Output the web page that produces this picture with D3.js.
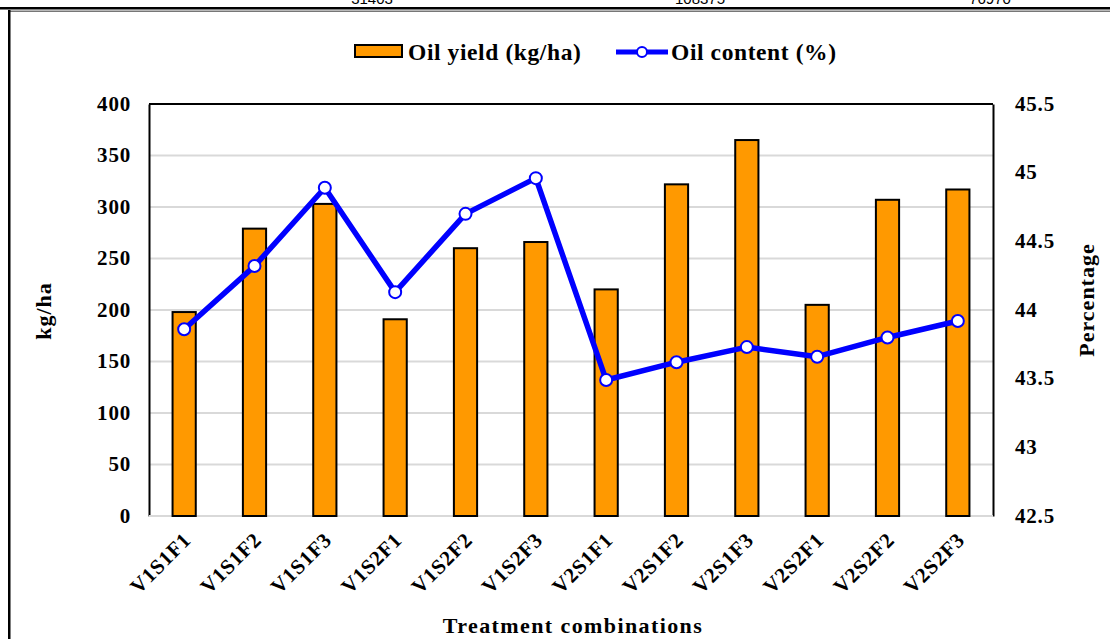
<!DOCTYPE html>
<html lang="en">
<head>
<meta charset="UTF-8">
<title>Oil yield and oil content</title>
<script src="https://d3js.org/d3.v7.min.js"></script>
<style>
body { margin: 0; background: #fff; }
svg { display: block; }
.tick text { font-family: "Liberation Serif", "Times New Roman", serif; font-weight: bold; }
</style>
</head>
<body>
<svg width="1110" height="639"></svg>
<script>
// data
const treatments = ["V1S1F1", "V1S1F2", "V1S1F3", "V1S2F1", "V1S2F2", "V1S2F3",
                    "V2S1F1", "V2S1F2", "V2S1F3", "V2S2F1", "V2S2F2", "V2S2F3"];
const oilYield = [198, 279, 303, 191, 260, 266, 220, 322, 365, 205, 307, 317];
const oilContent = [43.86, 44.32, 44.89, 44.13, 44.70, 44.96, 43.49, 43.62, 43.73, 43.66, 43.80, 43.92];
const leftTicks = [0, 50, 100, 150, 200, 250, 300, 350, 400];
const rightTicks = [42.5, 43, 43.5, 44, 44.5, 45, 45.5];
const cutNumbers = [["31403", 372], ["108375", 700], ["76970", 990]];

const svg = d3.select("svg");
const serif = "'Liberation Serif', 'Times New Roman', serif";
const m = { left: 149, right: 993, top: 104, bottom: 516 };

// frame bits of the page the chart was cropped from
svg.selectAll(".cut").data(cutNumbers).enter().append("text")
    .attr("x", d => d[1]).attr("y", 4)
    .attr("text-anchor", "middle")
    .attr("font-family", "'Liberation Sans', Arial, sans-serif")
    .attr("font-size", 15)
    .text(d => d[0]);
svg.append("rect").attr("x", 0).attr("y", 7).attr("width", 1110).attr("height", 2.5).attr("fill", "#000");
svg.append("rect").attr("x", 8).attr("y", 10.5).attr("width", 1102).attr("height", 1.5).attr("fill", "#777");
svg.append("rect").attr("x", 8).attr("y", 10).attr("width", 2.5).attr("height", 629).attr("fill", "#000");

const x = d3.scaleBand().domain(treatments).range([m.left, m.right]).paddingInner(0.67).paddingOuter(0.335);
const y = d3.scaleLinear().domain([0, 400]).range([m.bottom, m.top]);
const y2 = d3.scaleLinear().domain([42.5, 45.5]).range([m.bottom, m.top]);

// gridlines
svg.append("g").selectAll("line").data(leftTicks.slice(1, -1)).enter().append("line")
    .attr("x1", m.left).attr("x2", m.right)
    .attr("y1", d => y(d)).attr("y2", d => y(d))
    .attr("stroke", "#d9d9d9").attr("stroke-width", 2);

// left axis
const gl = svg.append("g").attr("transform", `translate(${m.left},0)`)
    .call(d3.axisLeft(y).tickValues(leftTicks).tickSize(0).tickPadding(18));
gl.select(".domain").attr("stroke", "#000").attr("stroke-width", 2);
gl.selectAll("text").attr("font-size", 21).attr("letter-spacing", 0.8).attr("fill", "#000").attr("dy", "0.3em");

// right axis
const gr = svg.append("g").attr("transform", `translate(${m.right},0)`)
    .call(d3.axisRight(y2).tickValues(rightTicks).tickSize(0).tickPadding(22).tickFormat(d3.format("")));
gr.select(".domain").attr("stroke", "#000").attr("stroke-width", 2);
gr.selectAll("text").attr("font-size", 21).attr("letter-spacing", 0.8).attr("fill", "#000").attr("dy", "0.3em");

// top border and baseline
svg.append("line").attr("x1", m.left).attr("x2", m.right).attr("y1", m.top).attr("y2", m.top)
    .attr("stroke", "#000").attr("stroke-width", 2);
svg.append("line").attr("x1", m.left).attr("x2", m.right).attr("y1", m.bottom).attr("y2", m.bottom)
    .attr("stroke", "#d9d9d9").attr("stroke-width", 2);

// bars
svg.append("g").selectAll("rect").data(oilYield).enter().append("rect")
    .attr("x", (d, i) => x(treatments[i]))
    .attr("y", d => y(d))
    .attr("width", x.bandwidth())
    .attr("height", d => m.bottom - y(d))
    .attr("fill", "#FF9900")
    .attr("stroke", "#000").attr("stroke-width", 2);

// x axis labels
const gx = svg.append("g").attr("transform", `translate(0,${m.bottom})`)
    .call(d3.axisBottom(x).tickSize(0).tickPadding(0));
gx.select(".domain").remove();
gx.selectAll("text")
    .attr("font-size", 21).attr("letter-spacing", 0.8).attr("fill", "#000")
    .attr("text-anchor", "end")
    .attr("transform", "translate(3,20) rotate(-45)")
    .attr("dy", "0.35em");

// line
const line = d3.line().x((d, i) => x(treatments[i]) + x.bandwidth() / 2).y(d => y2(d));
svg.append("path").datum(oilContent)
    .attr("d", line).attr("fill", "none")
    .attr("stroke", "#0000FF").attr("stroke-width", 5.5).attr("stroke-linejoin", "round");
svg.append("g").selectAll("circle").data(oilContent).enter().append("circle")
    .attr("cx", (d, i) => x(treatments[i]) + x.bandwidth() / 2)
    .attr("cy", d => y2(d))
    .attr("r", 6)
    .attr("fill", "#fff").attr("stroke", "#0000FF").attr("stroke-width", 2);

// axis titles
svg.append("text")
    .attr("transform", "translate(51,311) rotate(-90)")
    .attr("text-anchor", "middle")
    .attr("font-family", serif).attr("font-weight", "bold").attr("font-size", 22)
    .attr("letter-spacing", 1)
    .text("kg/ha");
svg.append("text")
    .attr("transform", "translate(1094,300) rotate(-90)")
    .attr("text-anchor", "middle")
    .attr("font-family", serif).attr("font-weight", "bold").attr("font-size", 22)
    .attr("letter-spacing", 1)
    .text("Percentage");
svg.append("text")
    .attr("x", 573).attr("y", 633)
    .attr("text-anchor", "middle")
    .attr("font-family", serif).attr("font-weight", "bold").attr("font-size", 22)
    .attr("letter-spacing", 1.4)
    .text("Treatment combinations");

// legend
const lg = svg.append("g").attr("font-family", serif).attr("font-weight", "bold").attr("font-size", 23.5);
lg.append("rect").attr("x", 355).attr("y", 45).attr("width", 47).attr("height", 12)
    .attr("fill", "#FF9900").attr("stroke", "#000").attr("stroke-width", 2);
lg.append("text").attr("x", 408).attr("y", 60).attr("letter-spacing", 0.6).text("Oil yield (kg/ha)");
lg.append("line").attr("x1", 616).attr("x2", 668).attr("y1", 52).attr("y2", 52)
    .attr("stroke", "#0000FF").attr("stroke-width", 5);
lg.append("circle").attr("cx", 642).attr("cy", 52).attr("r", 5)
    .attr("fill", "#fff").attr("stroke", "#0000FF").attr("stroke-width", 2);
lg.append("text").attr("x", 671).attr("y", 60).attr("letter-spacing", 0.6).text("Oil content (%)");
</script>
</body>
</html>
